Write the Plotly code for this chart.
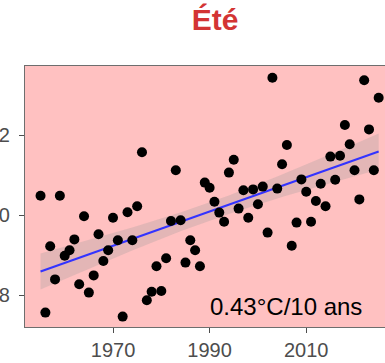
import numpy as np
import plotly.graph_objects as go

# Summer mean temperature (°C) by year
years = list(range(1955, 2026))
temps = [
    20.48, 17.56, 19.22, 18.39, 20.48, 18.98, 19.12, 19.39, 18.27, 19.97,  # 1955-1964
    18.06, 18.49, 19.52, 18.85, 19.12, 19.93, 19.37, 17.46, 20.07, 19.37,  # 1965-1974
    20.22, 21.57, 17.87, 18.08, 18.72, 18.10, 18.92, 19.85, 21.12, 19.87,  # 1975-1984
    18.81, 19.37, 19.12, 18.72, 20.81, 20.68, 20.33, 20.06, 19.83, 21.06,  # 1985-1994
    21.38, 20.16, 20.62, 19.93, 20.64, 20.27, 20.71, 19.56, 23.43, 20.66,  # 1995-2004
    21.27, 21.75, 19.23, 19.81, 20.89, 20.58, 19.83, 20.35, 20.78, 20.22,  # 2005-2014
    21.46, 20.88, 21.48, 22.25, 21.77, 21.12, 20.39, 23.37, 22.14, 21.12,  # 2015-2024
    22.93,                                                                  # 2025
]
x_ticks = [1970, 1990, 2010]
y_ticks = [18, 20, 22]
y_tick_labels = ["18", "20", "22"]
title_text = "Été"
trend_label = "0.43°C/10 ans"

# Linear fit with 95% confidence band (as geom_smooth(method="lm"))
x = np.array(years, dtype=float)
y = np.array(temps, dtype=float)
n = len(x)
b, a = np.polyfit(x, y, 1)
xf = np.linspace(x.min(), x.max(), 80)
yf = a + b * xf
resid = y - (a + b * x)
s = np.sqrt(np.sum(resid ** 2) / (n - 2))
sxx = np.sum((x - x.mean()) ** 2)
se = s * np.sqrt(1.0 / n + (xf - x.mean()) ** 2 / sxx)
tval = 1.995
lo = yf - tval * se
hi = yf + tval * se

fig = go.Figure()
fig.add_trace(go.Scatter(
    x=np.concatenate([xf, xf[::-1]]), y=np.concatenate([hi, lo[::-1]]),
    fill="toself", fillcolor="rgba(153,153,153,0.28)", line=dict(width=0),
    hoverinfo="skip", showlegend=False))
fig.add_trace(go.Scatter(x=xf, y=yf, mode="lines",
                         line=dict(color="#3333FF", width=2), showlegend=False))
fig.add_trace(go.Scatter(x=years, y=temps, mode="markers",
                         marker=dict(color="black", size=10), showlegend=False))

fig.add_annotation(x=2005.8, y=17.71, xref="x", yref="y", text=trend_label,
                   showarrow=False, xanchor="center", yanchor="middle",
                   font=dict(family="Liberation Sans, Arial", size=24, color="black"))

fig.update_layout(
    width=385, height=363,
    margin=dict(l=25, r=0, t=66, b=36),
    paper_bgcolor="white", plot_bgcolor="#FFC1C1",
    font=dict(family="Liberation Sans, Arial", color="#4D4D4D"),
    title=dict(text="<b>%s</b>" % title_text, x=215 / 385, xanchor="center",
               y=1 - 19 / 363, yanchor="middle",
               font=dict(family="Liberation Sans, Arial", size=30, color="#D33434")),
)
fig.update_xaxes(range=[1951.78, 2026.31], tickvals=x_ticks, showgrid=False,
                 zeroline=False, showline=True, mirror=True, linecolor="#6E6E6E",
                 linewidth=1, ticks="outside", ticklen=5, tickcolor="#4D4D4D",
                 tickfont=dict(size=20, color="#4D4D4D"), automargin=False)
fig.update_yaxes(range=[17.2, 23.725], tickvals=y_ticks, ticktext=y_tick_labels,
                 showgrid=False, zeroline=False, showline=True, mirror=False,
                 linecolor="#6E6E6E", linewidth=1, ticks="outside", ticklen=5,
                 tickcolor="#4D4D4D", tickfont=dict(size=20, color="#4D4D4D"),
                 ticklabelstandoff=5, automargin=False)

fig.write_html("out.html",
               config={"displayModeBar": False},
               post_script="document.body.style.margin='0';"
                           "document.body.style.overflow='hidden';")
